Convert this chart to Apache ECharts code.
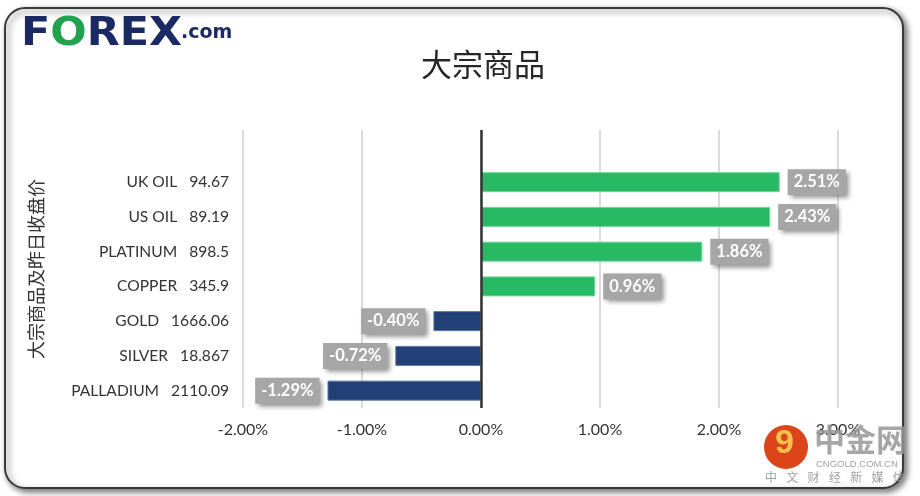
<!DOCTYPE html>
<html>
<head>
<meta charset="utf-8">
<script src="https://cdn.jsdelivr.net/npm/echarts@6/dist/echarts.min.js"></script>
<style>
html,body{margin:0;padding:0;background:#fff;}
#c{width:920px;height:496px;}
</style>
</head>
<body>
<div id="c"></div>
<script>
const names = ['UK OIL', 'US OIL', 'PLATINUM', 'COPPER', 'GOLD', 'SILVER', 'PALLADIUM'];
const prices = ['94.67', '89.19', '898.5', '345.9', '1666.06', '18.867', '2110.09'];
const changes = [2.51, 2.43, 1.86, 0.96, -0.40, -0.72, -1.29];
const xTicks = [-2, -1, 0, 1, 2, 3];
const sloganChars = ['中', '文', '财', '经', '新', '媒', '体'];

const GREEN = '#28b965';
const NAVY = '#233f78';

const catLabels = [''].concat(names.map((n, i) => n + '   ' + prices[i]));
const barData = [null].concat(changes.map(v => ({
  value: v,
  itemStyle: { color: v >= 0 ? GREEN : NAVY, borderColor: v >= 0 ? '#6fd79a' : '#5a74a8', borderWidth: 1 },
  label: { position: v >= 0 ? 'right' : 'left' }
})));

const sloganGraphics = sloganChars.map((ch, i) => ({
  type: 'text', z: 10, x: 765 + i * 21.3, y: 471,
  style: { text: ch, fontFamily: 'Noto Sans CJK SC', fontSize: 12, fill: 'rgba(150,150,150,0.9)' }
}));

const chart = echarts.init(document.getElementById('c'), null, { renderer: 'canvas' });
chart.setOption({
  backgroundColor: '#ffffff',
  animation: false,
  title: {
    text: '大宗商品',
    left: 478, top: 44, textAlign: 'center',
    textStyle: { fontFamily: 'Noto Sans CJK SC', fontSize: 31, fontWeight: 'normal', color: '#262626' }
  },
  grid: { left: 243, right: 82, top: 130, bottom: 88 },
  xAxis: {
    type: 'value',
    min: xTicks[0], max: xTicks[xTicks.length - 1], interval: 1,
    axisLine: { show: false },
    axisTick: { show: false },
    splitLine: { show: true, lineStyle: { color: '#cfcfcf', width: 1.5 } },
    axisLabel: {
      margin: 14,
      color: '#333',
      fontFamily: 'Lato', fontSize: 16,
      formatter: v => v.toFixed(2) + '%'
    }
  },
  yAxis: {
    type: 'category',
    inverse: true,
    data: catLabels,
    axisLine: { show: false, onZero: false },
    axisTick: { show: false },
    splitLine: { show: false },
    axisLabel: { margin: 14, color: '#333', fontFamily: 'Lato', fontSize: 15.6 },
    name: '大宗商品及昨日收盘价',
    nameLocation: 'middle',
    nameRotate: 90,
    nameGap: 198,
    nameTextStyle: { fontFamily: 'Noto Sans CJK SC', fontSize: 18, color: '#333' }
  },
  series: [{
    type: 'bar',
    data: barData,
    barWidth: 20,
    label: {
      show: true,
      distance: 8,
      formatter: p => p.value.toFixed(2) + '%',
      color: '#fff',
      fontFamily: 'Lato', fontWeight: 'bold', fontSize: 16.5,
      backgroundColor: '#a6a6a6',
      padding: [5, 6, 4, 6],
      shadowColor: 'rgba(0,0,0,0.45)', shadowBlur: 5, shadowOffsetX: 3, shadowOffsetY: 3
    },
    markLine: {
      silent: true, symbol: 'none', label: { show: false },
      lineStyle: { color: '#333', width: 2.5, type: 'solid' },
      data: [{ xAxis: 0 }]
    }
  }],
  graphic: [
    {
      type: 'rect', z: -10, silent: true,
      shape: { x: 5, y: 8, width: 898, height: 480, r: 20 },
      style: { fill: '#fff', stroke: '#3a3a3a', lineWidth: 2, shadowBlur: 6, shadowOffsetX: 3, shadowOffsetY: 3, shadowColor: 'rgba(0,0,0,0.55)' }
    },
    {
      type: 'text', x: 21, y: 15, scaleX: 1.1, z: 10,
      style: {
        text: '{a|F}{b|O}{a|REX}',
        rich: {
          a: { fontFamily: 'DejaVu Sans', fontWeight: 'bold', fontSize: 39, fill: '#1b2a63' },
          b: { fontFamily: 'DejaVu Sans', fontWeight: 'bold', fontSize: 39, fill: '#22a24f' }
        }
      }
    },
    {
      type: 'text', x: 181, y: 24, z: 10,
      style: { text: '.com', fontFamily: 'DejaVu Sans', fontWeight: 'bold', fontSize: 19, fill: '#1b2a63' }
    },
    {
      type: 'circle', z: 10, silent: true,
      shape: { cx: 786, cy: 447, r: 22 },
      style: { fill: '#dc4419' }
    },
    {
      type: 'text', z: 11, x: 775, y: 427,
      style: { text: '9', fontFamily: 'Liberation Sans', fontWeight: 'bold', fontSize: 34, fill: '#f6c14a' }
    },
    {
      type: 'text', z: 10, x: 814, y: 424,
      style: { text: '中金网', fontFamily: 'Noto Sans CJK SC', fontWeight: 'bold', fontSize: 31, fill: 'rgba(150,150,150,0.85)' }
    },
    {
      type: 'text', z: 10, x: 816, y: 459,
      style: { text: 'CNGOLD.COM.CN', fontFamily: 'Liberation Sans', fontSize: 9.5, fill: 'rgba(150,150,150,0.9)' }
    }
  ].concat(sloganGraphics)
});
</script>
</body>
</html>
